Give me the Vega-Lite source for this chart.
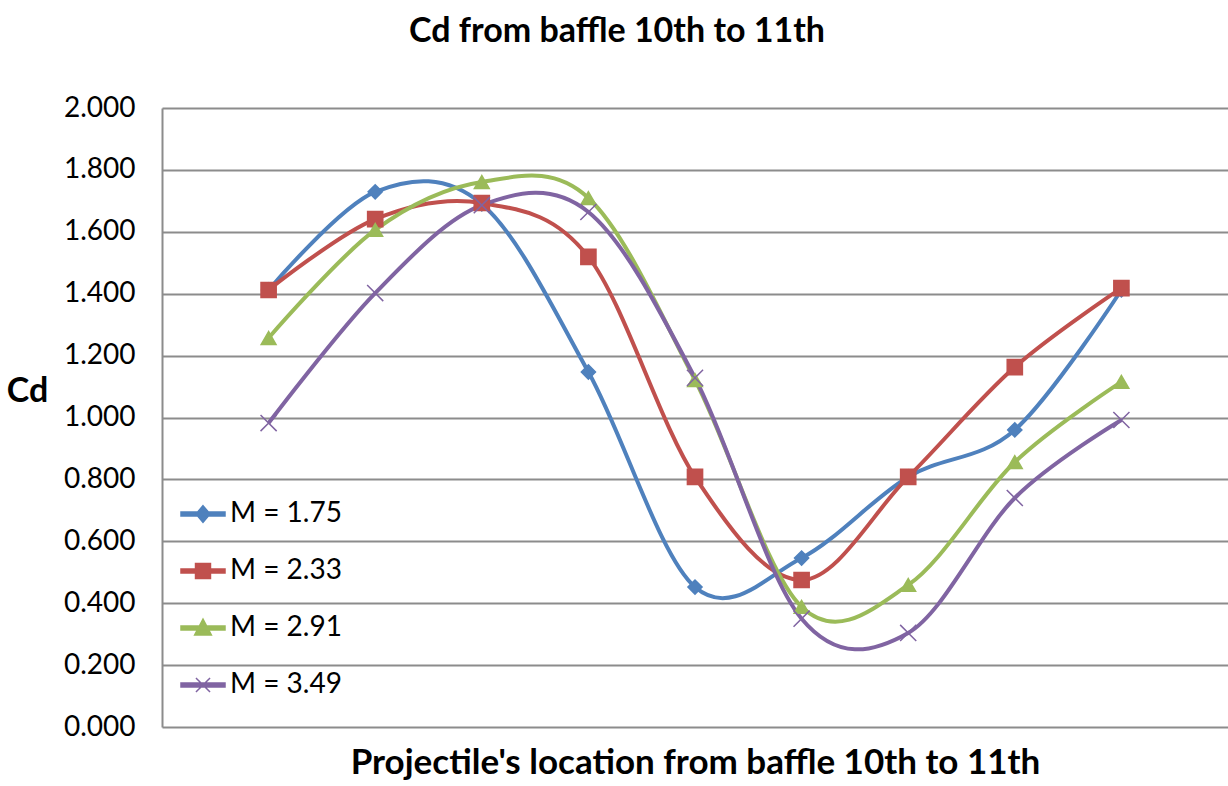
{
  "$schema": "https://vega.github.io/schema/vega-lite/v6.json",
  "width": 1066,
  "height": 619,
  "autosize": {"type": "none"},
  "padding": {"left": 162, "top": 108, "right": 0, "bottom": 59},
  "background": "white",
  "title": {
    "text": "Cd from baffle 10th to 11th",
    "font": "Lato",
    "fontSize": 34,
    "fontWeight": "bold",
    "color": "#000000",
    "anchor": "middle",
    "frame": "group",
    "dx": -78,
    "offset": 45
  },
  "config": {
    "view": {"stroke": null},
    "font": "Lato"
  },
  "data": {
    "values": [
      {"pos": 1, "series": "M = 1.75", "cd": 1.412},
      {"pos": 2, "series": "M = 1.75", "cd": 1.729},
      {"pos": 3, "series": "M = 1.75", "cd": 1.690},
      {"pos": 4, "series": "M = 1.75", "cd": 1.147},
      {"pos": 5, "series": "M = 1.75", "cd": 0.452},
      {"pos": 6, "series": "M = 1.75", "cd": 0.546},
      {"pos": 7, "series": "M = 1.75", "cd": 0.808},
      {"pos": 8, "series": "M = 1.75", "cd": 0.960},
      {"pos": 9, "series": "M = 1.75", "cd": 1.412},
      {"pos": 1, "series": "M = 2.33", "cd": 1.412},
      {"pos": 2, "series": "M = 2.33", "cd": 1.641},
      {"pos": 3, "series": "M = 2.33", "cd": 1.693},
      {"pos": 4, "series": "M = 2.33", "cd": 1.519},
      {"pos": 5, "series": "M = 2.33", "cd": 0.808},
      {"pos": 6, "series": "M = 2.33", "cd": 0.475},
      {"pos": 7, "series": "M = 2.33", "cd": 0.808},
      {"pos": 8, "series": "M = 2.33", "cd": 1.163},
      {"pos": 9, "series": "M = 2.33", "cd": 1.418},
      {"pos": 1, "series": "M = 2.91", "cd": 1.257},
      {"pos": 2, "series": "M = 2.91", "cd": 1.606},
      {"pos": 3, "series": "M = 2.91", "cd": 1.761},
      {"pos": 4, "series": "M = 2.91", "cd": 1.709},
      {"pos": 5, "series": "M = 2.91", "cd": 1.121},
      {"pos": 6, "series": "M = 2.91", "cd": 0.388},
      {"pos": 7, "series": "M = 2.91", "cd": 0.459},
      {"pos": 8, "series": "M = 2.91", "cd": 0.856},
      {"pos": 9, "series": "M = 2.91", "cd": 1.115},
      {"pos": 1, "series": "M = 3.49", "cd": 0.982},
      {"pos": 2, "series": "M = 3.49", "cd": 1.402},
      {"pos": 3, "series": "M = 3.49", "cd": 1.686},
      {"pos": 4, "series": "M = 3.49", "cd": 1.664},
      {"pos": 5, "series": "M = 3.49", "cd": 1.128},
      {"pos": 6, "series": "M = 3.49", "cd": 0.350},
      {"pos": 7, "series": "M = 3.49", "cd": 0.304},
      {"pos": 8, "series": "M = 3.49", "cd": 0.740},
      {"pos": 9, "series": "M = 3.49", "cd": 0.992}
    ]
  },
  "encoding": {
    "x": {
      "field": "pos",
      "type": "ordinal",
      "scale": {"type": "point", "padding": 1},
      "axis": {
        "title": "Projectile's location from baffle 10th to 11th",
        "titleFont": "Lato",
        "titleFontSize": 35,
        "titleFontWeight": "bold",
        "titleColor": "#000000",
        "titlePadding": 18,
        "titleX": 533,
        "labels": false,
        "ticks": false,
        "domain": false,
        "grid": false
      }
    },
    "y": {
      "field": "cd",
      "type": "quantitative",
      "scale": {"domain": [0, 2], "nice": false, "zero": true},
      "axis": {
        "title": "Cd",
        "titleAngle": 0,
        "titleAlign": "center",
        "titleBaseline": "middle",
        "titleX": -135,
        "titleY": 283,
        "titleFont": "Lato",
        "titleFontSize": 34,
        "titleFontWeight": "bold",
        "titleColor": "#000000",
        "values": [0, 0.2, 0.4, 0.6, 0.8, 1.0, 1.2, 1.4, 1.6, 1.8, 2.0],
        "format": ".3f",
        "labelFont": "Lato",
        "labelFontSize": 28,
        "labelColor": "#000000",
        "labelPadding": 27,
        "ticks": false,
        "domain": true,
        "domainColor": "#8c8c8c",
        "domainWidth": 2,
        "grid": true,
        "gridColor": "#8c8c8c",
        "gridWidth": 2
      }
    }
  },
  "layer": [
    {
      "mark": {"type": "point", "filled": true, "opacity": 0, "size": 10},
      "encoding": {
        "color": {
          "field": "series",
          "type": "nominal",
          "scale": {
            "domain": ["M = 1.75", "M = 2.33", "M = 2.91", "M = 3.49"],
            "range": ["#4F81BD", "#C0504D", "#9BBB59", "#8064A2"]
          },
          "legend": {
            "title": null,
            "orient": "none",
            "legendX": 18,
            "legendY": 383,
            "padding": 0,
            "symbolSize": 1936,
            "symbolStrokeWidth": 1.5,
            "symbolOpacity": 1,
            "rowPadding": 20,
            "labelOffset": 4,
            "labelFont": "Lato",
            "labelFontSize": 28,
            "labelColor": "#000000",
            "encode": {
              "symbols": {
                "update": {
                  "fill": {"scale": "color", "field": "value"},
                  "stroke": {"scale": "color", "field": "value"},
                  "opacity": {"value": 1}
                }
              }
            }
          }
        },
        "shape": {
          "field": "series",
          "type": "nominal",
          "scale": {
            "domain": ["M = 1.75", "M = 2.33", "M = 2.91", "M = 3.49"],
            "range": [
              "M-1,-0.09L1,-0.09L1,0.09L-1,0.09ZM0,-0.38L0.32,0L0,0.38L-0.32,0Z",
              "M-1,-0.09L1,-0.09L1,0.09L-1,0.09ZM-0.34,-0.34L0.34,-0.34L0.34,0.34L-0.34,0.34Z",
              "M-1,-0.09L1,-0.09L1,0.09L-1,0.09ZM0,-0.4L0.38,0.32L-0.38,0.32Z",
              "M-1,-0.09L1,-0.09L1,0.09L-1,0.09ZM-0.32,-0.32L0.32,0.32M-0.32,0.32L0.32,-0.32"
            ]
          }
        }
      }
    },
    {
      "mark": {"type": "line", "interpolate": "cardinal", "strokeWidth": 4},
      "encoding": {
        "color": {"field": "series", "type": "nominal"}
      }
    },
    {
      "transform": [{"filter": "datum.series === 'M = 1.75'"}],
      "mark": {"type": "point", "shape": "diamond", "filled": true, "opacity": 1, "size": 200, "fill": "#4F81BD", "stroke": "#4F81BD", "strokeWidth": 1.5}
    },
    {
      "transform": [{"filter": "datum.series === 'M = 2.33'"}],
      "mark": {"type": "point", "shape": "square", "filled": true, "opacity": 1, "size": 230, "fill": "#C0504D", "stroke": "#C0504D", "strokeWidth": 1.5}
    },
    {
      "transform": [{"filter": "datum.series === 'M = 2.91'"}],
      "mark": {"type": "point", "shape": "triangle-up", "filled": true, "opacity": 1, "size": 220, "fill": "#9BBB59", "stroke": "#9BBB59", "strokeWidth": 1.5}
    },
    {
      "transform": [{"filter": "datum.series === 'M = 3.49'"}],
      "mark": {"type": "point", "shape": "M-1,-1L1,1M-1,1L1,-1", "filled": false, "opacity": 1, "size": 260, "stroke": "#8064A2", "strokeWidth": 1.5}
    }
  ]
}
